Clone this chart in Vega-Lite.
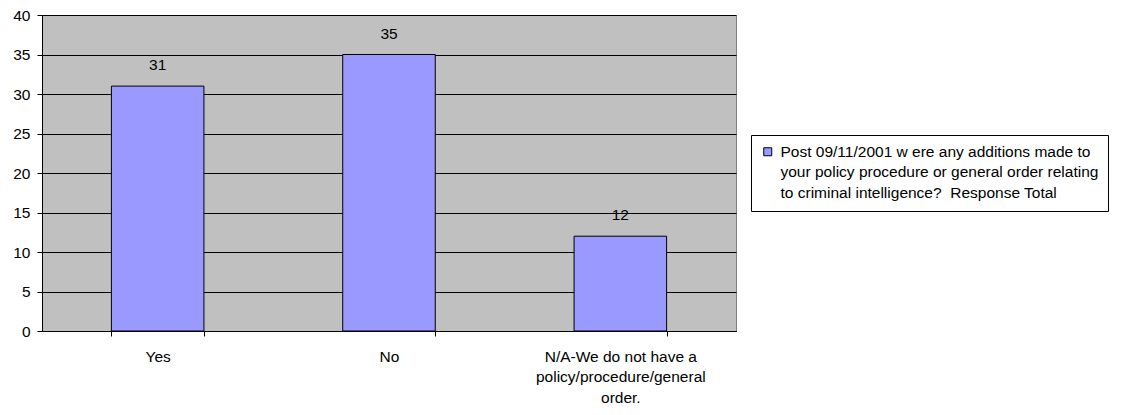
{
  "$schema": "https://vega.github.io/schema/vega-lite/v6.json",
  "autosize": {"type": "none"},
  "width": 694,
  "height": 316,
  "padding": {"left": 42, "top": 15, "right": 386, "bottom": 84},
  "background": "white",
  "config": {
    "font": "Liberation Sans",
    "view": {"fill": "#C0C0C0", "stroke": "#808080", "strokeWidth": 1},
    "style": {"guide-label": {"lineHeight": 20.5}}
  },
  "data": {
    "values": [
      {"response": "Yes", "total": 31, "series": "Post 09/11/2001 were any additions made to your policy procedure or general order relating to criminal intelligence?  Response Total"},
      {"response": "No", "total": 35, "series": "Post 09/11/2001 were any additions made to your policy procedure or general order relating to criminal intelligence?  Response Total"},
      {"response": "N/A-We do not have a policy/procedure/general order.", "total": 12, "series": "Post 09/11/2001 were any additions made to your policy procedure or general order relating to criminal intelligence?  Response Total"}
    ]
  },
  "encoding": {
    "x": {
      "field": "response",
      "type": "nominal",
      "sort": null,
      "scale": {"paddingInner": 0.6, "paddingOuter": 0.3},
      "axis": {
        "title": null,
        "labelAngle": 0,
        "labelFontSize": 15.5,
        "labelColor": "black",
        "labelPadding": 13,
        "labelBaseline": "top",
        "labelExpr": "datum.value == 'N/A-We do not have a policy/procedure/general order.' ? ['N/A-We do not have a', 'policy/procedure/general', 'order.'] : datum.label",
        "labelLimit": 0,
        "ticks": true,
        "tickBand": "extent",
        "tickExtra": true,
        "tickSize": 5,
        "tickColor": "black",
        "tickWidth": 1,
        "domainColor": "black",
        "grid": false
      }
    },
    "y": {
      "field": "total",
      "type": "quantitative",
      "scale": {"domain": [0, 40]},
      "axis": {
        "title": null,
        "values": [0, 5, 10, 15, 20, 25, 30, 35, 40],
        "labelFontSize": 15.5,
        "labelColor": "black",
        "labelPadding": 7,
        "tickSize": 5,
        "tickColor": "black",
        "domainColor": "black",
        "gridColor": "black",
        "gridOpacity": 1
      }
    }
  },
  "layer": [
    {
      "mark": {"type": "bar", "stroke": "black", "strokeWidth": 1},
      "encoding": {
        "color": {
          "field": "series",
          "type": "nominal",
          "scale": {"range": ["#9999FF"]},
          "legend": {
            "title": null,
            "orient": "none",
            "legendX": 709,
            "legendY": 120,
            "fillColor": "white",
            "strokeColor": "black",
            "padding": 9,
            "symbolType": "square",
            "symbolSize": 64,
            "symbolStrokeColor": "black",
            "symbolStrokeWidth": 1,
            "labelOffset": 5,
            "labelFontSize": 15.5,
            "labelColor": "black",
            "labelLimit": 0,
            "labelExpr": "['Post 09/11/2001 w ere any additions made to', 'your policy procedure or general order relating', 'to criminal intelligence? \u00a0Response Total']"
          }
        }
      }
    },
    {
      "mark": {"type": "text", "fontSize": 15.5, "color": "black", "baseline": "middle", "dy": -21},
      "encoding": {"text": {"field": "total", "type": "quantitative"}}
    }
  ]
}
